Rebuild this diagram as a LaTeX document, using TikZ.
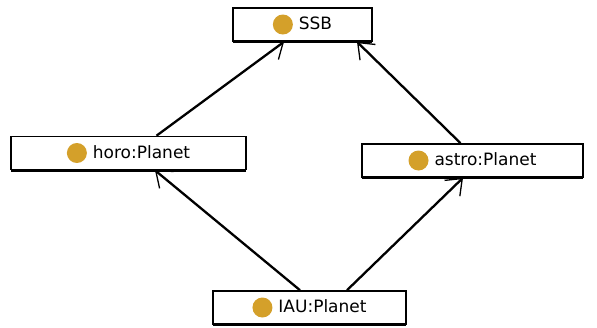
\documentclass[tikz,border=0pt]{standalone}
\usepackage{fontspec}
\setmainfont{DejaVu Sans}
\usetikzlibrary{arrows.meta, shadows}
\definecolor{planetgold}{RGB}{212, 160, 42}
\newcommand{\golddot}{\tikz[baseline=-0.55ex]\fill[planetgold] (0,0) circle (10pt);\hspace{6pt}}
\tikzset{
  individual/.style={
    draw=black,
    line width=1.6pt,
    fill=white,
    inner sep=0pt,
    minimum height=33pt,
    font=\fontsize{17}{19}\selectfont,
    drop shadow={shadow xshift=0pt, shadow yshift=-2.2pt, fill=black, opacity=1}
  },
  every edge/.style={
    draw=black,
    line width=2.3pt,
    -{Straight Barb[length=14pt, width=22pt, line width=1.3pt]}
  }
}

\begin{document}
\begin{tikzpicture}[x=1pt, y=-1pt]
  \useasboundingbox (0,0) rectangle (597,327);

  \node[individual, minimum width=139pt] (ssb)   at (302.5, 24.5)  {\golddot SSB};
  \node[individual, minimum width=235pt] (horo)  at (128.5, 153)   {\golddot horo:Planet};
  \node[individual, minimum width=221pt] (astro) at (472.5, 160.5) {\golddot astro:Planet};
  \node[individual, minimum width=193pt] (iau)   at (309.5, 307.5) {\golddot IAU:Planet};

  \path ([xshift=28pt]horo.north)   edge ([xshift=-18.5pt]ssb.south)
        ([xshift=-12pt]astro.north) edge ([xshift=54.5pt]ssb.south)
        ([xshift=-9.5pt]iau.north)  edge ([xshift=26.5pt]horo.south)
        ([xshift=37.5pt]iau.north)  edge ([xshift=-9.5pt]astro.south);
\end{tikzpicture}
\end{document}
